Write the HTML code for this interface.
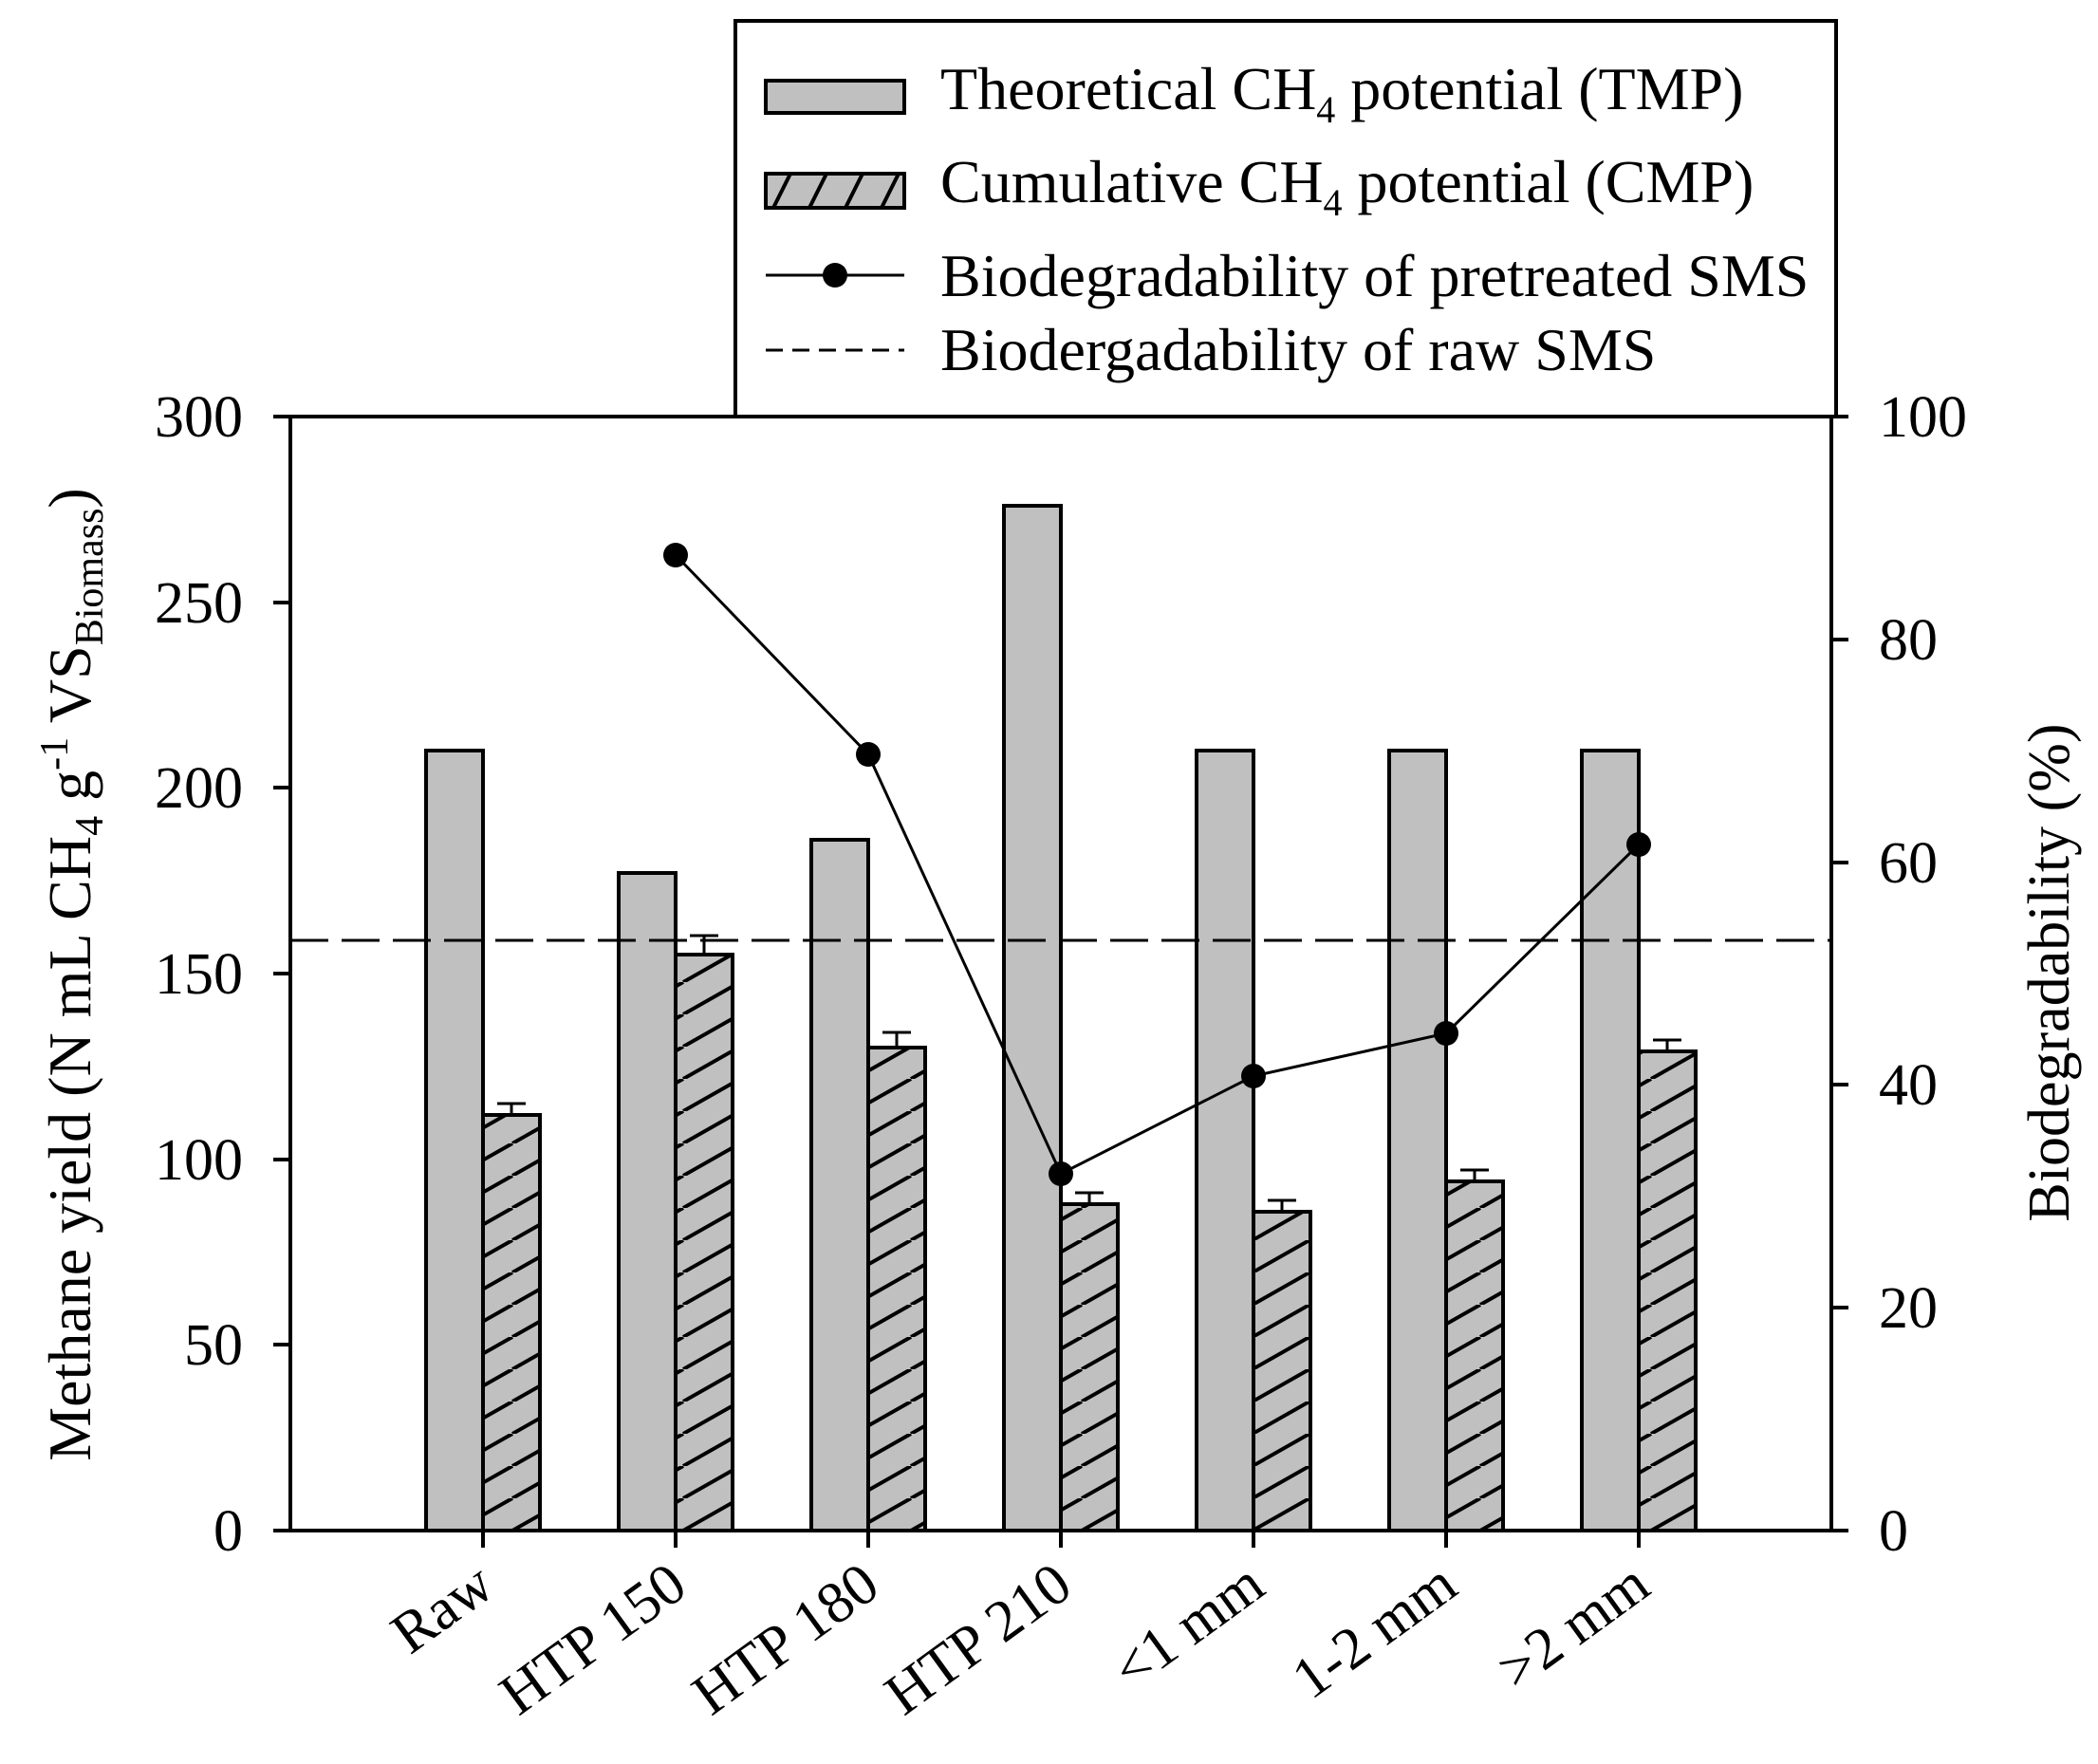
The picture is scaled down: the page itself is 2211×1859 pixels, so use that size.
<!DOCTYPE html>
<html><head><meta charset="utf-8"><style>html,body{margin:0;padding:0;background:#fff}svg{display:block}text{font-family:"Liberation Serif",serif;fill:#000}</style></head><body>
<svg width="2211" height="1859" viewBox="0 0 2211 1859" xmlns="http://www.w3.org/2000/svg">
<defs>
<pattern id="h" patternUnits="userSpaceOnUse" width="60" height="34" patternTransform="translate(0,1613)">
<rect width="60" height="34" fill="#c0c0c0"/>
<path d="M0,34 L60,0 M-60,34 L0,0 M60,34 L120,0" stroke="#000" stroke-width="4"/>
</pattern>
<pattern id="hl" patternUnits="userSpaceOnUse" width="38" height="40" patternTransform="translate(807,183)">
<rect width="38" height="40" fill="#c0c0c0"/>
<path d="M6,40 L26,0 M-32,40 L-12,0 M44,40 L64,0" stroke="#000" stroke-width="4"/>
</pattern>
</defs>
<rect x="775" y="22" width="1160" height="417" fill="#fff" stroke="#000" stroke-width="4"/>
<rect x="807" y="85" width="146" height="34" fill="#c0c0c0" stroke="#000" stroke-width="4"/>
<rect x="807" y="183" width="146" height="36" fill="url(#hl)" stroke="#000" stroke-width="4"/>
<line x1="807" y1="290" x2="953" y2="290" stroke="#000" stroke-width="3"/>
<circle cx="880" cy="290" r="13"/>
<line x1="807" y1="369" x2="953" y2="369" stroke="#000" stroke-width="3" stroke-dasharray="18,10"/>
<g font-size="64">
<text x="991" y="115">Theoretical CH<tspan font-size="40" dy="14">4</tspan><tspan dy="-14"> potential (TMP)</tspan></text>
<text x="991" y="213">Cumulative CH<tspan font-size="40" dy="14">4</tspan><tspan dy="-14"> potential (CMP)</tspan></text>
<text x="991" y="312">Biodegradability of pretreated SMS</text>
<text x="991" y="390">Biodergadability of raw SMS</text>
</g>
<g stroke="#000" stroke-width="4">
<rect x="449" y="791" width="60" height="822" fill="#c0c0c0"/>
<rect x="652" y="920" width="60" height="693" fill="#c0c0c0"/>
<rect x="855" y="885" width="60" height="728" fill="#c0c0c0"/>
<rect x="1058" y="533" width="60" height="1080" fill="#c0c0c0"/>
<rect x="1261" y="791" width="60" height="822" fill="#c0c0c0"/>
<rect x="1464" y="791" width="60" height="822" fill="#c0c0c0"/>
<rect x="1667" y="791" width="60" height="822" fill="#c0c0c0"/>
<rect x="509" y="1175" width="60" height="438" fill="url(#h)"/>
<rect x="712" y="1006" width="60" height="607" fill="url(#h)"/>
<rect x="915" y="1104" width="60" height="509" fill="url(#h)"/>
<rect x="1118" y="1269" width="60" height="344" fill="url(#h)"/>
<rect x="1321" y="1277" width="60" height="336" fill="url(#h)"/>
<rect x="1524" y="1245" width="60" height="368" fill="url(#h)"/>
<rect x="1727" y="1108" width="60" height="505" fill="url(#h)"/>
</g>
<g stroke="#000" stroke-width="3">
<path d="M539,1175V1163M524,1163H554"/>
<path d="M742,1006V986M727,986H757"/>
<path d="M945,1104V1088M930,1088H960"/>
<path d="M1148,1269V1257M1133,1257H1163"/>
<path d="M1351,1277V1265M1336,1265H1366"/>
<path d="M1554,1245V1233M1539,1233H1569"/>
<path d="M1757,1108V1096M1742,1096H1772"/>
</g>
<line x1="306" y1="991" x2="1930" y2="991" stroke="#000" stroke-width="3" stroke-dasharray="40,14"/>
<polyline points="712,585 915,795 1118,1237 1321,1134 1524,1089 1727,890" fill="none" stroke="#000" stroke-width="3"/>
<g><circle cx="712" cy="585" r="13"/><circle cx="915" cy="795" r="13"/><circle cx="1118" cy="1237" r="13"/><circle cx="1321" cy="1134" r="13"/><circle cx="1524" cy="1089" r="13"/><circle cx="1727" cy="890" r="13"/></g>
<g stroke="#000" stroke-width="4" fill="none">
<rect x="306" y="439" width="1624" height="1174"/>
<path d="M288,439H306M288,635H306M288,830H306M288,1026H306M288,1222H306M288,1417H306M288,1613H306"/>
<path d="M1930,439H1948M1930,674H1948M1930,909H1948M1930,1143H1948M1930,1378H1948M1930,1613H1948"/>
<path d="M509,1613V1631M712,1613V1631M915,1613V1631M1118,1613V1631M1321,1613V1631M1524,1613V1631M1727,1613V1631"/>
</g>
<g font-size="62" text-anchor="end">
<text x="256" y="460">300</text><text x="256" y="656">250</text><text x="256" y="851">200</text><text x="256" y="1047">150</text><text x="256" y="1243">100</text><text x="256" y="1438">50</text><text x="256" y="1634">0</text>
</g>
<g font-size="62" text-anchor="start">
<text x="1980" y="460">100</text><text x="1980" y="695">80</text><text x="1980" y="930">60</text><text x="1980" y="1164">40</text><text x="1980" y="1399">20</text><text x="1980" y="1634">0</text>
</g>
<g font-size="62" text-anchor="end">
<text transform="translate(524,1678) rotate(-36)">Raw</text>
<text transform="translate(727,1678) rotate(-36)">HTP 150</text>
<text transform="translate(930,1678) rotate(-36)">HTP 180</text>
<text transform="translate(1133,1678) rotate(-36)">HTP 210</text>
<text transform="translate(1336,1678) rotate(-36)">&lt;1 mm</text>
<text transform="translate(1539,1678) rotate(-36)">1-2 mm</text>
<text transform="translate(1742,1678) rotate(-36)">&gt;2 mm</text>
</g>
<text transform="translate(95,1027) rotate(-90)" font-size="64" text-anchor="middle">Methane yield (N mL CH<tspan font-size="42" dy="13">4</tspan><tspan dy="-13"> g</tspan><tspan font-size="42" dy="-24">-1</tspan><tspan dy="24"> VS</tspan><tspan font-size="42" dy="13">Biomass</tspan><tspan dy="-13">)</tspan></text>
<text transform="translate(2180,1025) rotate(-90)" font-size="62" text-anchor="middle">Biodegradability (%)</text>
</svg>
</body></html>
